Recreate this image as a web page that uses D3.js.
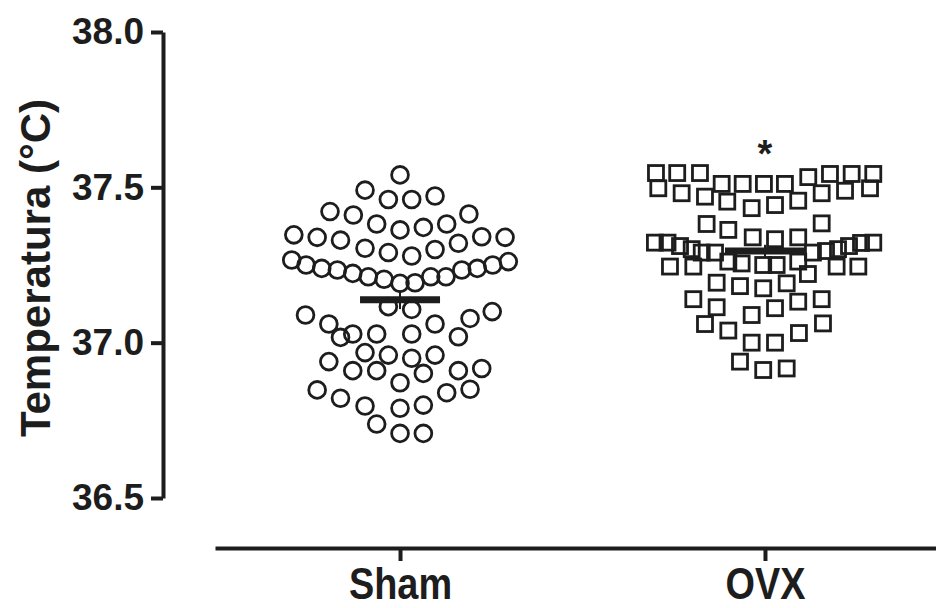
<!DOCTYPE html>
<html><head><meta charset="utf-8">
<script src="https://cdn.jsdelivr.net/npm/d3@7"></script>
<style>body{margin:0;background:#fff} svg{display:block}</style>
</head><body><svg id="chart" width="936" height="608"></svg>
<script>
// ---------- data ----------
const groups = ["Sham", "OVX"];
const yTicks = [36.5, 37.0, 37.5, 38.0];
const yLabel = "Temperatura (°C)";

const shamValues = [37.540, 37.491, 37.472, 37.461, 37.461, 37.422, 37.414, 37.411, 37.382, 37.382, 37.371, 37.363, 37.347, 37.341, 37.339, 37.339, 37.330, 37.320, 37.304, 37.300, 37.290, 37.279,
  37.266, 37.250, 37.239, 37.234, 37.223, 37.212, 37.204, 37.191, 37.193, 37.212, 37.212, 37.234, 37.239, 37.250, 37.261,
  37.116, 37.107, 37.100, 37.089, 37.078, 37.060, 37.060, 37.028, 37.028, 37.028, 37.019, 37.017,
  36.968, 36.960, 36.960, 36.950, 36.939, 36.917, 36.910, 36.910, 36.910, 36.901, 36.871,
  36.850, 36.848, 36.839, 36.821, 36.799, 36.796, 36.789, 36.738, 36.708, 36.708];
// lateral scatter slot of each point (column-scatter spread)
const shamSpread = [0, -3, 3, -1, 1, -6, 5.9, -4, -2, 4, 2, 0, -9.1, 7, -7.1, 9, -5.1, 5, -3, 3, -1, 1,
  -9.28, -8.05, -6.71, -5.37, -4.05, -2.72, -1.37, 0, 1.29, 2.63, 3.94, 5.29, 6.62, 7.94, 9.28,
  -1, 1, 7.9, -8.1, 6, -6.1, 3, -4.05, -2, 1, 5, -5.1,
  -3, -1, 3, 1, -6.1, 7, -4.05, -2, 5, 2, 0,
  6, -7.1, 4, -5.1, 2, -3, 0, -2, 0, 2];

const ovxValues = [37.546, 37.546, 37.546, 37.511, 37.511, 37.511, 37.511, 37.533, 37.543, 37.543, 37.543,
  37.497, 37.481, 37.470, 37.481, 37.489, 37.497,
  37.454, 37.433, 37.443, 37.457,
  37.382, 37.363, 37.384, 37.339, 37.333, 37.339,
  37.322, 37.322, 37.311, 37.301, 37.290, 37.290, 37.290, 37.295, 37.301, 37.311, 37.321, 37.322,
  37.245, 37.245, 37.261, 37.255, 37.250, 37.250, 37.261, 37.245, 37.245,
  37.221, 37.193, 37.182, 37.175, 37.191,
  37.140, 37.114, 37.089, 37.111, 37.132, 37.140,
  37.060, 37.039, 37.031, 37.062, 37.000, 37.000,
  36.939, 36.912, 36.917];
const ovxSpread = [-9.34, -7.52, -5.57, -3.71, -1.91, -0.09, 1.71, 3.71, 5.57, 7.43, 9.28,
  -9.14, -7.14, -5.14, 4.86, 6.86, 9.0,
  -3.23, -1.14, 0.86, 2.85,
  -5.0, -3.14, 4.86, -1.05, 0.86, 2.85,
  -9.43, -8.35, -7.28, -6.28, -5.42, -4.28, 4.11, 5.23, 6.26, 7.2, 8.23, 9.28,
  -8.14, -6.14, -3.14, -2.0, -0.15, 1.0, 2.85, 6.14, 8.0,
  3.68, -4.14, -2.14, -0.15, 1.86,
  -6.14, -4.14, -1.14, 0.86, 2.85, 4.86,
  -5.14, -3.14, 2.91, 4.97, -1.14, 0.86,
  -2.14, -0.15, 1.86];

const groupMeans = [37.138, 37.295];
const groupSem = [0.03, 0.02];
const sigLabels = ["", "*"];
const sigLevel = 37.565;

// ---------- chart ----------
const ink = "#1d1d1d";
const svg = d3.select("#chart");

const x = d3.scalePoint().domain(groups).range([215, 950]).padding(0.507);
const y = d3.scaleLinear().domain([36.5, 38.0]).range([498, 32]);
const spread = d3.scaleLinear().domain([-10, 10]).range([-116.7, 116.7]);

// Y axis
const yAxis = svg.append("g")
  .attr("transform", "translate(163,0)")
  .call(d3.axisLeft(y).tickValues(yTicks).tickFormat(d3.format(".1f"))
        .tickSize(12).tickSizeOuter(0).tickPadding(7));
yAxis.select(".domain").attr("stroke", ink).attr("stroke-width", 4);
yAxis.selectAll(".tick line").attr("stroke", ink).attr("stroke-width", 4);
yAxis.selectAll(".tick text")
  .attr("fill", ink)
  .style("font-family", "'Liberation Sans', Arial, sans-serif")
  .style("font-weight", "bold")
  .style("font-size", "37px");

// X axis
const xAxis = svg.append("g")
  .attr("transform", "translate(0,548)")
  .call(d3.axisBottom(x).tickSize(13).tickSizeOuter(0).tickPadding(7));
xAxis.select(".domain").attr("stroke", ink).attr("stroke-width", 4);
xAxis.selectAll(".tick line").attr("stroke", ink).attr("stroke-width", 4);
xAxis.selectAll(".tick text")
  .attr("fill", ink)
  .style("font-family", "'Liberation Sans', Arial, sans-serif")
  .style("font-weight", "bold")
  .style("font-size", "44px")
  .each(function () {
    // condensed face, as in the reference
    const w = this.getComputedTextLength();
    d3.select(this).attr("textLength", w * 0.86).attr("lengthAdjust", "spacingAndGlyphs");
  });

// Y title
svg.append("text")
  .attr("transform", "translate(50,268) rotate(-90)")
  .attr("text-anchor", "middle")
  .attr("fill", ink)
  .style("font-family", "'Liberation Sans', Arial, sans-serif")
  .style("font-weight", "bold")
  .style("font-size", "42px")
  .text(yLabel);

// points
const sham = shamValues.map((v, i) => ({v, s: shamSpread[i]}));
const ovx = ovxValues.map((v, i) => ({v, s: ovxSpread[i]}));

svg.append("g").selectAll("circle").data(sham).join("circle")
  .attr("cx", d => x("Sham") + spread(d.s))
  .attr("cy", d => y(d.v))
  .attr("r", 8.4)
  .attr("fill", "none")
  .attr("stroke", ink)
  .attr("stroke-width", 2.8);

const sq = 15;
svg.append("g").selectAll("rect").data(ovx).join("rect")
  .attr("x", d => x("OVX") + spread(d.s) - sq / 2)
  .attr("y", d => y(d.v) - sq / 2)
  .attr("width", sq).attr("height", sq)
  .attr("fill", "none")
  .attr("stroke", ink)
  .attr("stroke-width", 2.8);

// mean + SEM
const stats = groups.map((g, i) => ({g, m: groupMeans[i], e: groupSem[i], lab: sigLabels[i]}));
const sg = svg.append("g");
sg.selectAll("line.err").data(stats).join("line").attr("class", "err")
  .attr("x1", d => x(d.g)).attr("x2", d => x(d.g))
  .attr("y1", d => y(d.m - d.e)).attr("y2", d => y(d.m + d.e))
  .attr("stroke", ink).attr("stroke-width", 2);
sg.selectAll("line.mean").data(stats).join("line").attr("class", "mean")
  .attr("x1", d => x(d.g) - 40).attr("x2", d => x(d.g) + 40)
  .attr("y1", d => y(d.m)).attr("y2", d => y(d.m))
  .attr("stroke", ink).attr("stroke-width", 7);

// significance marker
svg.append("g").selectAll("text").data(stats.filter(d => d.lab)).join("text")
  .attr("x", d => x(d.g))
  .attr("y", y(sigLevel))
  .attr("text-anchor", "middle")
  .attr("fill", ink)
  .style("font-family", "'Liberation Sans', Arial, sans-serif")
  .style("font-weight", "bold")
  .style("font-size", "38px")
  .text(d => d.lab);
</script>
</body></html>
